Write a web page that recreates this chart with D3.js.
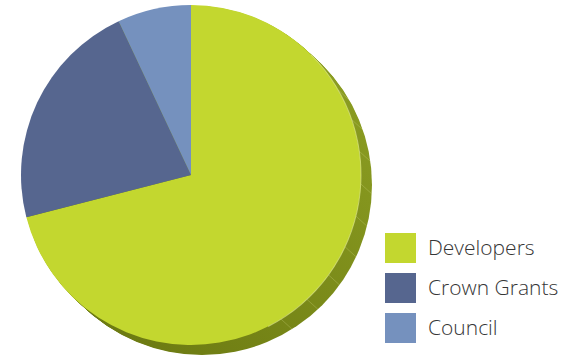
<!DOCTYPE html>
<html>
<head>
<meta charset="utf-8">
<script src="https://cdn.jsdelivr.net/npm/d3@7"></script>
<style>
  body { margin: 0; background: #fff; }
</style>
</head>
<body>
<div id="chart"></div>
<script>
const categories = ['Developers', 'Crown Grants', 'Council'];
const values = [71, 22, 7];
const colors = ['#c3d72f', '#56668f', '#7591be'];

const width = 584;
const height = 355;
const cx = 191;
const cy = 175;
const radius = 170;
const depth = { x: 11, y: 10 };

const svg = d3.select('#chart')
  .append('svg')
  .attr('width', width)
  .attr('height', height);

const defs = svg.append('defs');
const grad = defs.append('linearGradient')
  .attr('id', 'rim')
  .attr('gradientUnits', 'userSpaceOnUse')
  .attr('x1', cx + radius).attr('y1', cy - radius * 0.6)
  .attr('x2', cx - radius * 0.4).attr('y2', cy + radius);
grad.append('stop').attr('offset', 0).attr('stop-color', '#8c9e22');
grad.append('stop').attr('offset', 1).attr('stop-color', '#6c7a12');

const data = categories.map((c, i) => ({ name: c, value: values[i], color: colors[i] }));

const pie = d3.pie()
  .sort(null)
  .value(d => d.value);

const arc = d3.arc()
  .innerRadius(0)
  .outerRadius(radius);

// extruded side of the pie
const side = svg.append('g');
d3.range(1, 13).forEach(k => {
  const t = k / 12;
  side.append('circle')
    .attr('cx', cx + depth.x * t)
    .attr('cy', cy + depth.y * t)
    .attr('r', radius)
    .attr('fill', 'url(#rim)');
});

// faint facet lines on the rim
d3.range(60, 150, 11).forEach(deg => {
  const a = deg * Math.PI / 180;
  const x0 = cx + radius * Math.sin(a);
  const y0 = cy - radius * Math.cos(a);
  side.append('line')
    .attr('x1', x0).attr('y1', y0)
    .attr('x2', x0 + depth.x).attr('y2', y0 + depth.y)
    .attr('stroke', '#d8e08a')
    .attr('stroke-opacity', 0.35)
    .attr('stroke-width', 0.8);
});

const g = svg.append('g')
  .attr('transform', `translate(${cx}, ${cy})`);

g.selectAll('path')
  .data(pie(data))
  .enter()
  .append('path')
  .attr('d', arc)
  .attr('fill', d => d.data.color);

// light edge highlight on the right
g.append('path')
  .attr('d', d3.arc().innerRadius(radius - 0.5).outerRadius(radius + 0.5)
    .startAngle(Math.PI * 0.25).endAngle(Math.PI * 0.85)())
  .attr('fill', '#e4ec9a')
  .attr('opacity', 0.6);

const legend = svg.append('g')
  .attr('transform', 'translate(385, 233)');

data.forEach((d, i) => {
  const row = legend.append('g')
    .attr('transform', `translate(0, ${i * 40})`);

  row.append('rect')
    .attr('width', 31)
    .attr('height', 30)
    .attr('fill', d.color);

  row.append('text')
    .attr('x', 43)
    .attr('y', 22)
    .style('font-family', '"Open Sans", "Noto Sans", sans-serif')
    .style('font-weight', 300)
    .style('font-size', '21px')
    .style('fill', '#363636')
    .text(d.name);
});
</script>
</body>
</html>
